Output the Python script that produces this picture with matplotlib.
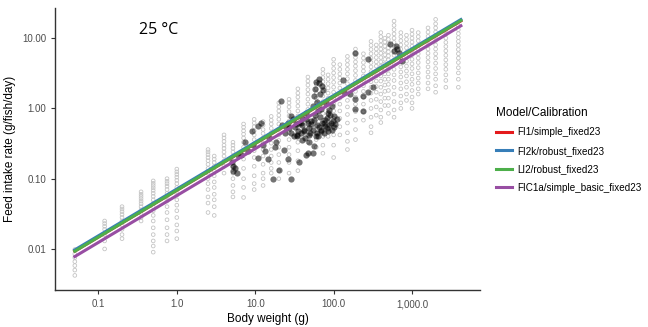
import matplotlib
matplotlib.use("Agg")
import matplotlib.pyplot as plt
from matplotlib.lines import Line2D

plt.rcParams['font.family'] = ['Liberation Sans', 'DejaVu Sans']

# simulated intake (grey open circles): one column per body weight
grey_w = [0.05, 0.12, 0.2, 0.35, 0.5, 0.75, 1.0, 2.5, 3.0, 4.0, 5.2, 7.1, 9.7,
          12.6, 16, 20, 27, 35, 47, 60, 73, 85, 100, 120, 150, 190, 240, 300,
          350, 400, 450, 500, 590, 720, 850, 1000, 1200, 1600, 2000, 2700, 3900]
grey_y = [
    [0.0098, 0.0085, 0.0075, 0.0066, 0.0058, 0.0050, 0.0042],
    [0.025, 0.023, 0.021, 0.019, 0.016, 0.013, 0.010],
    [0.040, 0.037, 0.034, 0.031, 0.028, 0.025, 0.022, 0.019, 0.016, 0.014],
    [0.065, 0.060, 0.056, 0.052, 0.048, 0.044, 0.040, 0.036, 0.032, 0.028, 0.025],
    [0.093, 0.086, 0.080, 0.074, 0.068, 0.062, 0.056, 0.050, 0.045, 0.040, 0.035,
     0.030, 0.025, 0.020, 0.016, 0.013, 0.011, 0.009],
    [0.100, 0.092, 0.085, 0.078, 0.070, 0.062, 0.055, 0.048, 0.040, 0.033, 0.026,
     0.020, 0.016, 0.013],
    [0.137, 0.125, 0.115, 0.105, 0.095, 0.085, 0.075, 0.066, 0.058, 0.050, 0.042,
     0.035, 0.028, 0.022, 0.018, 0.014],
    [0.26, 0.24, 0.22, 0.20, 0.18, 0.16, 0.14, 0.12, 0.10, 0.085, 0.07, 0.055, 0.045, 0.033],
    [0.21, 0.19, 0.17, 0.15, 0.13, 0.11, 0.09, 0.075, 0.06, 0.05, 0.04, 0.03],
    [0.42, 0.38, 0.34, 0.30, 0.27, 0.24, 0.21, 0.18, 0.15, 0.12],
    [0.33, 0.30, 0.27, 0.24, 0.21, 0.18, 0.15, 0.12, 0.10, 0.08, 0.065, 0.055],
    [0.60, 0.54, 0.48, 0.43, 0.38, 0.33, 0.28, 0.24, 0.19, 0.14, 0.10, 0.075, 0.054],
    [0.70, 0.62, 0.55, 0.48, 0.42, 0.36, 0.30, 0.25, 0.20, 0.15, 0.11, 0.085, 0.07],
    [0.65, 0.58, 0.50, 0.44, 0.38, 0.32, 0.26, 0.21, 0.16, 0.12, 0.10, 0.08],
    [0.77, 0.68, 0.60, 0.52, 0.45, 0.38, 0.32, 0.26, 0.21, 0.17, 0.14, 0.12],
    [1.2, 1.05, 0.92, 0.80, 0.70, 0.60, 0.50, 0.42, 0.35, 0.28, 0.22, 0.17, 0.13, 0.10],
    [1.35, 1.2, 1.05, 0.9, 0.78, 0.66, 0.55, 0.45, 0.36, 0.28, 0.22, 0.17, 0.12],
    [1.9, 1.65, 1.45, 1.25, 1.08, 0.92, 0.78, 0.65, 0.53, 0.42, 0.33, 0.25, 0.18, 0.13],
    [2.8, 2.45, 2.15, 1.85, 1.6, 1.35, 1.15, 0.97, 0.8, 0.65, 0.52, 0.42, 0.33],
    [2.2, 1.9, 1.65, 1.4, 1.2, 1.0, 0.85, 0.7, 0.56, 0.45, 0.36, 0.28],
    [3.6, 3.15, 2.75, 2.4, 2.05, 1.75, 1.5, 1.25, 1.05, 0.85, 0.68, 0.52, 0.4, 0.3, 0.23],
    [3.0, 2.6, 2.25, 1.95, 1.65, 1.4, 1.2, 1.0, 0.82, 0.66, 0.52, 0.4],
    [5.0, 4.3, 3.7, 3.2, 2.75, 2.35, 2.0, 1.7, 1.4, 1.15, 0.92, 0.72, 0.55, 0.42, 0.3, 0.2],
    [4.2, 3.6, 3.1, 2.7, 2.3, 1.95, 1.65, 1.4, 1.15, 0.92, 0.72, 0.55, 0.42],
    [5.5, 4.8, 4.2, 3.6, 3.1, 2.65, 2.25, 1.9, 1.6, 1.3, 1.05, 0.82, 0.62, 0.45, 0.34, 0.26],
    [7.0, 6.1, 5.3, 4.6, 4.0, 3.45, 2.95, 2.5, 2.1, 1.75, 1.45, 1.15, 0.9, 0.68, 0.5, 0.36],
    [6.0, 5.2, 4.5, 3.9, 3.4, 2.9, 2.5, 2.1, 1.75, 1.45, 1.15, 0.9, 0.68],
    [9.0, 7.9, 6.9, 6.0, 5.2, 4.5, 3.9, 3.35, 2.85, 2.4, 2.0, 1.65, 1.3, 1.0, 0.75,
     0.55, 0.45],
    [8.0, 7.0, 6.1, 5.3, 4.6, 4.0, 3.4, 2.9, 2.45, 2.05, 1.7, 1.35, 1.05, 0.8],
    [12.0, 10.5, 9.2, 8.0, 7.0, 6.1, 5.3, 4.6, 4.0, 3.4, 2.9, 2.45, 2.0, 1.6, 1.25,
     0.95, 0.75, 0.63],
    [10.0, 8.8, 7.7, 6.7, 5.8, 5.0, 4.3, 3.7, 3.1, 2.6, 2.15, 1.75, 1.4, 1.1],
    [11, 9.6, 8.4, 7.3, 6.4, 5.6, 4.9, 4.2, 3.6, 3.1, 2.6, 2.2, 1.8, 1.4, 1.1, 0.85],
    [17.5, 15.2, 13.2, 11.5, 10.0, 8.7, 7.6, 6.6, 5.7, 4.9, 4.2, 3.6, 3.0, 2.5, 2.0,
     1.6, 1.25, 0.95, 0.75],
    [12, 10.5, 9.2, 8.0, 7.0, 6.1, 5.3, 4.6, 3.9, 3.3, 2.8, 2.3, 1.9, 1.5, 1.2, 1.0],
    [11, 9.6, 8.4, 7.3, 6.3, 5.5, 4.7, 4.0, 3.4, 2.9, 2.4, 2.0, 1.6, 1.3],
    [13, 11.4, 10.0, 8.8, 7.7, 6.7, 5.8, 5.0, 4.3, 3.7, 3.1, 2.6, 2.2, 1.8, 1.45, 1.2, 1.0],
    [12, 10.5, 9.2, 8.0, 7.0, 6.0, 5.2, 4.5, 3.8, 3.2, 2.7, 2.3, 1.9, 1.6],
    [14, 12.2, 10.6, 9.2, 8.0, 7.0, 6.1, 5.3, 4.6, 3.9, 3.3, 2.8, 2.3, 1.9],
    [18.5, 16.0, 14.0, 12.2, 10.6, 9.2, 8.0, 7.0, 6.0, 5.2, 4.4, 3.7, 3.1, 2.6, 2.1, 1.7],
    [13, 11.4, 10.0, 8.7, 7.6, 6.6, 5.7, 4.9, 4.2, 3.6, 3.0, 2.5, 2.0],
    [15, 13.2, 11.6, 10.2, 9.0, 7.9, 6.9, 6.0, 5.2, 4.5, 3.8, 3.2, 2.6, 2.0],
]

# observed intake (black filled points)
obs_w = [21.4, 11.9, 10.8, 7.3, 5.2, 5.2, 5.0, 16.7, 14.5, 20, 26, 28.8, 35, 38, 42,
         28.8, 31, 46.6, 36, 23.5, 18.5, 25, 9.0, 15, 29, 66, 72, 56, 54, 70, 85,
         100, 110, 93, 76, 70, 85, 100, 46.6, 42, 49, 56, 54, 45, 130, 190, 275,
         135, 160, 190, 235, 275, 315, 235, 190, 520, 590, 620, 650, 680, 750,
         33, 40, 44, 52, 58, 62, 64, 68, 78, 80, 88, 95, 30, 27, 34, 39, 48, 60,
         12.5, 8.2, 6.0,
         32, 36, 40, 44, 48, 52, 57, 61, 66, 71, 77, 83, 90, 98, 105,
         34, 38, 43, 50, 55, 63, 69, 75, 82, 88, 96, 58, 65, 73, 62, 67, 59,
         22, 24, 26, 18, 13.5, 11, 9.5, 6.5, 5.5, 5.8]
obs_y = [1.27, 0.63, 0.56, 0.33, 0.15, 0.13, 0.17, 0.10, 0.19, 0.135, 0.19, 0.77,
         0.48, 0.63, 0.50, 0.45, 0.40, 0.23, 0.17, 0.26, 0.33, 0.55, 0.47, 0.38,
         0.10, 2.6, 2.1, 1.5, 1.07, 0.97, 0.87, 0.77, 0.70, 0.63, 0.63, 0.50, 0.48,
         0.55, 0.63, 0.48, 0.33, 0.29, 0.23, 0.22, 2.5, 6.2, 5.0, 1.7, 1.6, 1.35,
         1.5, 1.7, 2.0, 0.91, 0.97, 8.2, 6.6, 7.7, 7.0, 6.2, 4.7,
         0.60, 0.72, 0.85, 0.66, 0.80, 0.58, 0.92, 0.75, 0.68, 1.2, 0.95, 1.1,
         0.70, 0.52, 0.42, 0.36, 0.42, 0.40, 0.30, 0.25, 0.22,
         0.55, 0.62, 0.58, 0.70, 0.52, 0.60, 0.68, 0.45, 0.55, 0.62, 0.57, 0.72,
         0.80, 0.66, 0.60,
         0.40, 0.45, 0.38, 0.44, 0.50, 0.40, 0.48, 0.44, 0.52, 0.58, 0.50, 1.9,
         2.3, 1.8, 1.25, 1.6, 2.4,
         0.58, 0.45, 0.62, 0.28, 0.25, 0.20, 0.30, 0.22, 0.14, 0.12]

# model predictions: endpoints
models = ['FI1/simple_fixed23', 'FI2k/robust_fixed23', 'LI2/robust_fixed23',
          'FIC1a/simple_basic_fixed23']
colors = ['#E41A1C', '#377EB8', '#4DAF4A', '#984EA3']
line_w = [0.05, 4200]
line_y = [[0.0093, 17.6], [0.0097, 18.4], [0.0093, 17.8], [0.0078, 15.0]]

xticks = [0.1, 1, 10, 100, 1000]
xticklabels = ['0.1', '1.0', '10.0', '100.0', '1,000.0']
yticks = [0.01, 0.1, 1, 10]
yticklabels = ['0.01', '0.10', '1.00', '10.00']

fig = plt.figure(figsize=(6.48, 3.27), dpi=100)
ax = fig.add_axes([0.085, 0.113, 0.656, 0.863])

for w, ys in zip(grey_w, grey_y):
    ax.scatter([w] * len(ys), ys, s=7, facecolors='none', edgecolors='#C4C4C4',
               linewidths=0.6, zorder=1)

ax.scatter(obs_w, obs_y, s=20, color='black', alpha=0.55, linewidths=0, zorder=2)

for name, c, ys in zip(models, colors, line_y):
    ax.plot(line_w, ys, color=c, lw=2.2, label=name, zorder=3)

ax.set_xscale('log')
ax.set_yscale('log')
ax.set_xlim(0.028, 7400)
ax.set_ylim(0.0026, 27)
ax.set_xticks(xticks)
ax.set_xticklabels(xticklabels)
ax.set_yticks(yticks)
ax.set_yticklabels(yticklabels)
ax.minorticks_off()

for s in ['top', 'right']:
    ax.spines[s].set_visible(False)
for s in ['left', 'bottom']:
    ax.spines[s].set_color('#333333')
    ax.spines[s].set_linewidth(1.0)
ax.tick_params(length=3, width=0.8, color='#333333', labelcolor='#4D4D4D',
               labelsize=7)

ax.set_xlabel('Body weight (g)', fontsize=8.5, color='black', labelpad=3)
ax.set_ylabel('Feed intake rate (g/fish/day)', fontsize=8.5, color='black', labelpad=4)

ax.text(0.198, 0.92, '25 °C', transform=ax.transAxes, fontsize=11.5,
        family=['Open Sans', 'DejaVu Sans'], ha='left', va='center')

handles = [Line2D([], [], color=c, lw=2.2) for c in colors]
leg = fig.legend(handles, models, loc='upper left', bbox_to_anchor=(0.752, 0.70),
                 frameon=False, title='Model/Calibration', fontsize=7.1,
                 title_fontsize=8.5, handlelength=1.6, handletextpad=0.5,
                 labelspacing=0.85)
leg._legend_box.align = 'left'

fig.savefig('out.png', dpi=100)
